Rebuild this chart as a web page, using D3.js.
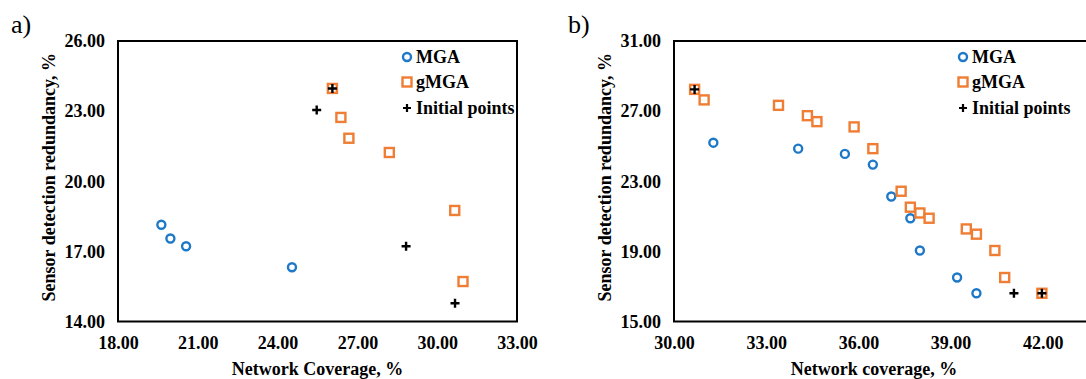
<!DOCTYPE html>
<html>
<head>
<meta charset="utf-8">
<script src="https://cdn.jsdelivr.net/npm/d3@7"></script>
<style>
  html, body { margin: 0; padding: 0; background: #fff; overflow: hidden; }
  svg { display: block; font-family: "Liberation Serif", "Times New Roman", serif; }
</style>
</head>
<body>
<svg id="chart" width="1086" height="379"></svg>
<script>
// ---- Panel a) data ----
const aMGA_x = [19.63, 19.97, 20.56, 24.54];
const aMGA_y = [18.14, 17.55, 17.22, 16.32];
const aGMGA_x = [26.06, 26.38, 26.68, 28.20, 30.66, 30.97];
const aGMGA_y = [23.97, 22.73, 21.84, 21.23, 18.75, 15.71];
const aInit_x = [26.06, 25.47, 28.83, 30.67];
const aInit_y = [23.97, 23.05, 17.22, 14.78];
const aXTicks = [18, 21, 24, 27, 30, 33];
const aYTicks = [14, 17, 20, 23, 26];

// ---- Panel b) data ----
const bMGA_x = [31.28, 34.04, 35.56, 36.47, 37.07, 37.69, 38.00, 39.21, 39.84];
const bMGA_y = [25.20, 24.86, 24.56, 23.95, 22.13, 20.89, 19.05, 17.51, 16.61];
const bGMGA_x = [30.67, 30.98, 33.40, 34.34, 34.65, 35.86, 36.47, 37.39, 37.69, 38.00, 38.30, 39.51, 39.84, 40.44, 40.76, 41.97];
const bGMGA_y = [28.24, 27.64, 27.33, 26.74, 26.40, 26.10, 24.86, 22.43, 21.52, 21.19, 20.89, 20.28, 19.98, 19.05, 17.51, 16.61];
const bInit_x = [30.67, 41.06, 41.97];
const bInit_y = [28.24, 16.61, 16.61];
const bXTicks = [30, 33, 36, 39, 42];
const bYTicks = [15, 19, 23, 27, 31];

const seriesNames = ["MGA", "gMGA", "Initial points"];
const BLUE = "#1e78c8";
const ORANGE = "#ef7d33";
const INK = "#000";

const svg = d3.select("#chart");

function panel(cfg) {
  const g = svg.append("g");
  const x = d3.scaleLinear().domain(cfg.xDomain).range([cfg.left, cfg.right]);
  const y = d3.scaleLinear().domain(cfg.yDomain).range([cfg.bottom, cfg.top]);

  // plot frame
  g.append("rect")
    .attr("x", cfg.left).attr("y", cfg.top)
    .attr("width", cfg.right - cfg.left).attr("height", cfg.bottom - cfg.top)
    .attr("fill", "none").attr("stroke", INK).attr("stroke-width", 2);

  // y axis labels
  const yAxis = d3.axisLeft(y).tickValues(cfg.yTicks).tickSize(0).tickPadding(13)
    .tickFormat(d3.format(".2f"));
  const ya = g.append("g").attr("transform", `translate(${cfg.left},0)`).call(yAxis)
    .attr("font-family", "Liberation Serif");
  ya.select(".domain").remove();
  ya.selectAll("text").attr("font-size", 18).attr("font-weight", "bold").attr("fill", INK);

  // x axis labels
  const xAxis = d3.axisBottom(x).tickValues(cfg.xTicks).tickSize(0).tickPadding(15)
    .tickFormat(d3.format(".2f"));
  const xa = g.append("g").attr("transform", `translate(0,${cfg.bottom})`).call(xAxis)
    .attr("font-family", "Liberation Serif");
  xa.select(".domain").remove();
  xa.selectAll("text").attr("font-size", 18).attr("font-weight", "bold").attr("fill", INK);

  // axis titles
  g.append("text")
    .attr("x", cfg.xTitleX).attr("y", 375)
    .attr("text-anchor", "middle").attr("font-size", 18).attr("font-weight", "bold")
    .attr("fill", INK).text(cfg.xTitle);
  g.append("text")
    .attr("transform", `translate(${cfg.yTitleX},${(cfg.top + cfg.bottom) / 2 - 4}) rotate(-90)`)
    .attr("text-anchor", "middle").attr("font-size", 18).attr("font-weight", "bold")
    .attr("fill", INK).text("Sensor detection redundancy, %");

  // panel letter
  g.append("text")
    .attr("x", cfg.letterX).attr("y", 33)
    .attr("font-size", 26).attr("fill", INK).text(cfg.letter);

  // markers
  const mga = d3.zip(cfg.mgaX, cfg.mgaY);
  const gm = d3.zip(cfg.gX, cfg.gY);
  const ini = d3.zip(cfg.iX, cfg.iY);

  g.selectAll(".mga").data(mga).join("circle")
    .attr("cx", d => x(d[0])).attr("cy", d => y(d[1])).attr("r", 4)
    .attr("fill", "#fff").attr("stroke", BLUE).attr("stroke-width", 2.4);

  g.selectAll(".gm").data(gm).join("rect")
    .attr("x", d => x(d[0]) - 4.5).attr("y", d => y(d[1]) - 4.5)
    .attr("width", 9).attr("height", 9)
    .attr("fill", "#fff").attr("stroke", ORANGE).attr("stroke-width", 2.4);

  g.selectAll(".ini").data(ini).join("path")
    .attr("transform", d => `translate(${x(d[0])},${y(d[1])})`)
    .attr("d", "M-4.5,0H4.5M0,-4.5V4.5")
    .attr("stroke", INK).attr("stroke-width", 2.4).attr("fill", "none");

  // legend
  const lg = g.append("g");
  const rows = [57, 82, 108];
  seriesNames.forEach((name, i) => {
    const cy = rows[i];
    if (i === 0) {
      lg.append("circle").attr("cx", cfg.legX).attr("cy", cy).attr("r", 4)
        .attr("fill", "#fff").attr("stroke", BLUE).attr("stroke-width", 2.4);
    } else if (i === 1) {
      lg.append("rect").attr("x", cfg.legX - 4.5).attr("y", cy - 4.5).attr("width", 9).attr("height", 9)
        .attr("fill", "#fff").attr("stroke", ORANGE).attr("stroke-width", 2.4);
    } else {
      lg.append("path").attr("transform", `translate(${cfg.legX},${cy})`)
        .attr("d", "M-4,0H4M0,-4V4").attr("stroke", INK).attr("stroke-width", 2.2);
    }
    lg.append("text").attr("x", cfg.legX + 9).attr("y", cy + 6)
      .attr("font-size", 18).attr("font-weight", "bold").attr("fill", INK).text(name);
  });
}

panel({
  letter: "a)", letterX: 11,
  xDomain: [18, 33], yDomain: [14, 26],
  left: 118, right: 517, top: 41, bottom: 321.5,
  xTicks: aXTicks, yTicks: aYTicks,
  xTitle: "Network Coverage, %", xTitleX: 317.5, yTitleX: 55,
  mgaX: aMGA_x, mgaY: aMGA_y, gX: aGMGA_x, gY: aGMGA_y, iX: aInit_x, iY: aInit_y,
  legX: 407
});

panel({
  letter: "b)", letterX: 568,
  xDomain: [30, 43.6], yDomain: [15, 31],
  left: 674, right: 1092, top: 41, bottom: 321.5,
  xTicks: bXTicks, yTicks: bYTicks,
  xTitle: "Network coverage, %", xTitleX: 874, yTitleX: 611,
  mgaX: bMGA_x, mgaY: bMGA_y, gX: bGMGA_x, gY: bGMGA_y, iX: bInit_x, iY: bInit_y,
  legX: 963
});
</script>
</body>
</html>
